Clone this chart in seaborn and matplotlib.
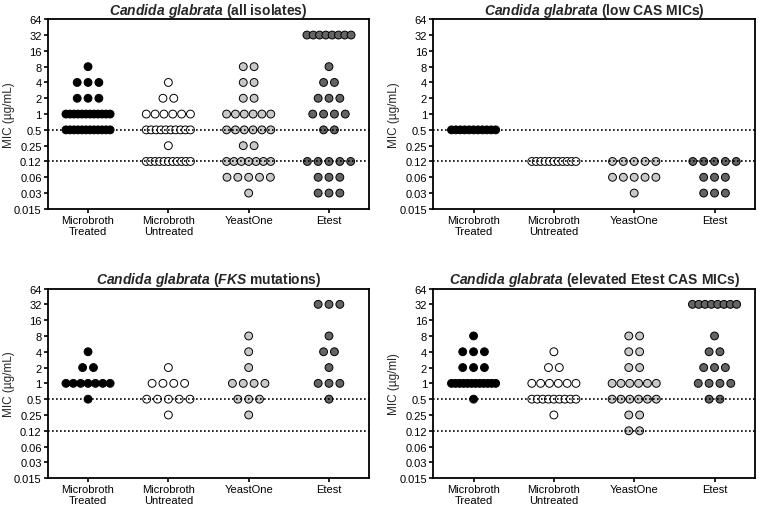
import numpy as np
import pandas as pd
import seaborn as sns
import matplotlib.pyplot as plt

# MIC levels (plotted values) and the labels used on the axis
mic_levels = [0.03125, 0.0625, 0.125, 0.25, 0.5, 1, 2, 4, 8, 16, 32]
tick_values = [0.015625, 0.03125, 0.0625, 0.125, 0.25, 0.5, 1, 2, 4, 8, 16, 32, 64]
tick_labels = ['0.015', '0.03', '0.06', '0.12', '0.25', '0.5', '1', '2', '4', '8', '16', '32', '64']

methods = ['Microbroth\nTreated', 'Microbroth\nUntreated', 'YeastOne', 'Etest']

# number of isolates at each MIC level (same order as mic_levels)
all_treated = [0, 0, 0, 0, 12, 12, 3, 3, 1, 0, 0]
all_untreated = [0, 0, 11, 1, 10, 6, 2, 1, 0, 0, 0]
all_yeastone = [1, 5, 7, 2, 6, 6, 2, 2, 2, 0, 0]
all_etest = [3, 3, 5, 0, 2, 4, 3, 2, 1, 0, 8]

low_treated = [0, 0, 0, 0, 11, 0, 0, 0, 0, 0, 0]
low_untreated = [0, 0, 11, 0, 0, 0, 0, 0, 0, 0, 0]
low_yeastone = [1, 5, 5, 0, 0, 0, 0, 0, 0, 0, 0]
low_etest = [3, 3, 5, 0, 0, 0, 0, 0, 0, 0, 0]

fks_treated = [0, 0, 0, 0, 1, 7, 2, 1, 0, 0, 0]
fks_untreated = [0, 0, 0, 1, 5, 4, 1, 0, 0, 0, 0]
fks_yeastone = [0, 0, 0, 1, 3, 4, 1, 1, 1, 0, 0]
fks_etest = [0, 0, 0, 0, 1, 3, 1, 2, 1, 0, 3]

elev_treated = [0, 0, 0, 0, 1, 12, 3, 3, 1, 0, 0]
elev_untreated = [0, 0, 0, 1, 9, 6, 2, 1, 0, 0, 0]
elev_yeastone = [0, 0, 2, 2, 6, 6, 2, 2, 2, 0, 0]
elev_etest = [0, 0, 0, 0, 2, 4, 3, 2, 1, 0, 8]

panels = [
    (r'$\mathbfit{Candida\ glabrata}$ (all isolates)', 'MIC (µg/mL)',
     [all_treated, all_untreated, all_yeastone, all_etest]),
    (r'$\mathbfit{Candida\ glabrata}$ (low CAS MICs)', 'MIC (µg/mL)',
     [low_treated, low_untreated, low_yeastone, low_etest]),
    (r'$\mathbfit{Candida\ glabrata}$ ($\mathbfit{FKS}$ mutations)', 'MIC (µg/mL)',
     [fks_treated, fks_untreated, fks_yeastone, fks_etest]),
    (r'$\mathbfit{Candida\ glabrata}$ (elevated Etest CAS MICs)', 'MIC (µg/ml)',
     [elev_treated, elev_untreated, elev_yeastone, elev_etest]),
]

colors = {methods[0]: 'black', methods[1]: 'white', methods[2]: '#c8c8c8', methods[3]: '#646464'}


def build_frame(counts_by_method, step=0.135, max_span=0.55):
    # Prism-like layout: equal MICs are put side by side in a centred row
    rows = []
    for i, (method, counts) in enumerate(zip(methods, counts_by_method)):
        for mic, n in zip(mic_levels, counts):
            if n == 0:
                continue
            gap = step if n < 2 else min(step, max_span / (n - 1))
            offsets = (np.arange(n) - (n - 1) / 2) * gap
            for off in offsets:
                rows.append({'method': method, 'x': i + off, 'mic': mic})
    return pd.DataFrame(rows)


sns.set_style('ticks')
plt.rcParams['font.family'] = ['Liberation Sans', 'DejaVu Sans']
plt.rcParams['mathtext.fontset'] = 'custom'
plt.rcParams['mathtext.rm'] = 'Liberation Sans:bold'
plt.rcParams['mathtext.bf'] = 'Liberation Sans:bold'
plt.rcParams['mathtext.bfit'] = 'Liberation Sans:bold:italic'

fig, axes = plt.subplots(2, 2, figsize=(7.6, 5.06), dpi=100)
fig.subplots_adjust(left=0.063, right=0.993, top=0.960, bottom=0.053, wspace=0.2, hspace=0.42)

for ax, (title, ylabel, counts) in zip(axes.flat, panels):
    df = build_frame(counts)
    sns.scatterplot(data=df, x='x', y='mic', hue='method', palette=colors,
                    edgecolor='black', linewidth=0.7, s=32, legend=False,
                    zorder=2, ax=ax)
    ax.set_yscale('log', base=2)
    ax.set_ylim(0.015625, 64)
    ax.set_xlim(-0.5, 3.5)
    ax.set_yticks(tick_values)
    ax.set_yticklabels(tick_labels)
    ax.minorticks_off()
    ax.set_xticks(range(4))
    ax.set_xticklabels(methods, linespacing=1.1)
    ax.axhline(0.5, color='black', linestyle=(0, (1, 1.4)), linewidth=1.2, zorder=3)
    ax.axhline(0.125, color='black', linestyle=(0, (1, 1.4)), linewidth=1.2, zorder=3)
    ax.set_title(title, fontsize=10, fontweight='bold', pad=4)
    ax.set_xlabel('')
    ax.set_ylabel(ylabel, fontsize=8.5)
    ax.yaxis.set_label_coords(-0.103, 0.5)
    ax.tick_params(axis='both', labelsize=8, length=3, width=1.2, pad=1.5, colors='black')
    for side in ax.spines.values():
        side.set_linewidth(1.3)
        side.set_color('black')

plt.savefig('out.png', dpi=100)
